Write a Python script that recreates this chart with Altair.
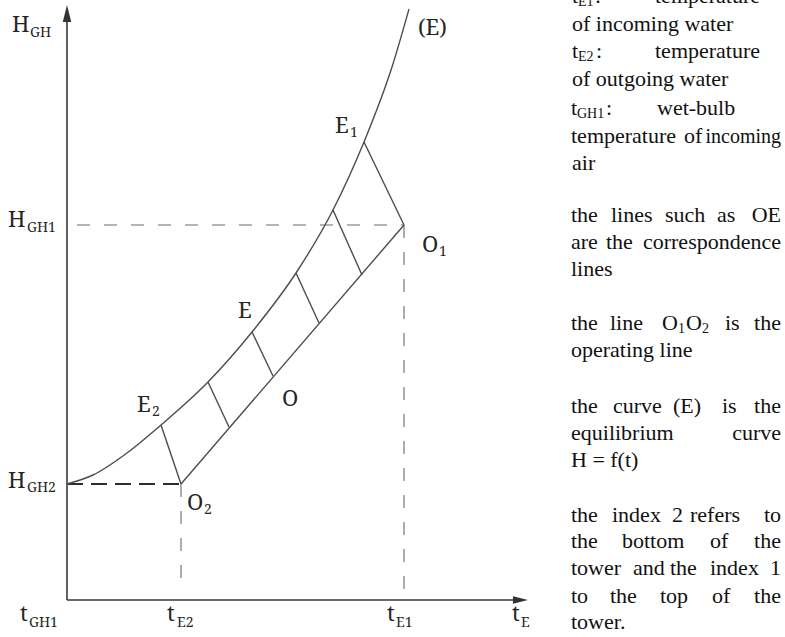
import altair as alt
import pandas as pd

# Equilibrium curve (E): H = f(t) for saturated air at water temperature t
eq_t = [0.0, 2.6, 6.0, 9.4, 14.1, 18.5, 22.9, 26.6, 29.7, 32.5, 34.2]
eq_H = [11.6, 12.5, 14.7, 17.5, 21.8, 26.8, 32.7, 39.0, 45.8, 53.3, 59.1]

# Operating line from O2 (bottom of tower) to O1 (top of tower)
op_t = [11.4, 33.7]
op_H = [11.6, 37.5]

# Correspondence lines: point E on the curve -> point O on the operating line
tie_e_t = [9.4, 14.1, 18.5, 22.9, 26.6, 29.7]
tie_e_H = [17.5, 21.8, 26.8, 32.7, 39.0, 45.8]
tie_o_t = [11.4, 16.2, 20.6, 25.2, 29.5, 33.7]
tie_o_H = [11.6, 17.3, 22.4, 27.7, 32.5, 37.5]

# Reference temperatures / enthalpies
t_GH1, t_E2, t_E1 = 0.0, 11.4, 33.7
H_GH2, H_GH1 = 11.6, 37.5

W, H = 785, 637
XS = alt.Scale(domain=[-6.7, 71.8], nice=False, zero=False)
YS = alt.Scale(domain=[-3.7, 60.0], nice=False, zero=False)

LINE = "#4d4d4d"
INK = "#262626"
LABEL_FONT = "Noto Serif"
NOTE_FONT = "Liberation Serif"


def xy(x="t", y="H"):
    return dict(x=alt.X(f"{x}:Q", scale=XS, axis=None),
                y=alt.Y(f"{y}:Q", scale=YS, axis=None))


def segments(rows):
    return pd.DataFrame(rows, columns=["t", "H", "t2", "H2"])


def rule_layer(df, **style):
    return alt.Chart(df).mark_rule(**style).encode(
        **xy(), x2=alt.X2("t2:Q"), y2=alt.Y2("H2:Q"))


# Axes (without the arrow heads)
axes = rule_layer(segments([
    [t_GH1, 0.0, t_GH1, 57.8],
    [t_GH1, 0.0, 44.8, 0.0],
]), color="#3a3a3a", strokeWidth=1.6)

heads = pd.DataFrame({"t": [0.0, 45.35], "H": [58.65, 0.0],
                      "kind": ["up", "right"]})
head_up = alt.Chart(heads[heads.kind == "up"]).mark_point(
    shape="M0,-1L0.5,1L-0.5,1Z", filled=True, size=289, opacity=1,
    color="#333333").encode(**xy())
head_right = alt.Chart(heads[heads.kind == "right"]).mark_point(
    shape="M1,0L-1,0.5L-1,-0.5Z", filled=True, size=225, opacity=1,
    color="#333333").encode(**xy())

# Dashed construction lines
guide_h1 = rule_layer(segments([
    [t_GH1, H_GH1, t_E1, H_GH1],
]), color="#6a6a6a", strokeWidth=1.1, strokeDash=[13, 14], strokeDashOffset=17)
guide_v = rule_layer(segments([
    [t_E1, H_GH1, t_E1, 0.0],
    [t_E2, H_GH2, t_E2, 1.7],
]), color="#6a6a6a", strokeWidth=1.1, strokeDash=[13, 14])
guide_bold = rule_layer(segments([
    [t_GH1, H_GH2, t_E2, H_GH2],
]), color="#2e2e2e", strokeWidth=2.2, strokeDash=[16, 8])

# Equilibrium curve
eq = alt.Chart(pd.DataFrame({"t": eq_t, "H": eq_H})).mark_line(
    interpolate="monotone", color=LINE, strokeWidth=1.4).encode(**xy())

# Operating line
op = alt.Chart(pd.DataFrame({"t": op_t, "H": op_H})).mark_line(
    color=LINE, strokeWidth=1.4).encode(**xy())

# Correspondence lines
ties = rule_layer(pd.DataFrame({"t": tie_e_t, "H": tie_e_H,
                                "t2": tie_o_t, "H2": tie_o_H}),
                  color=LINE, strokeWidth=1.4)

# Diagram labels: (text, t, H, font size) - subscripts are smaller and lower
labels = pd.DataFrame([
    ("H", -5.5, 56.8, 22), ("GH", -3.7, 56.3, 14),
    ("H", -5.9, 37.3, 22), ("GH1", -4.0, 36.8, 14),
    ("H", -5.9, 11.2, 22), ("GH2", -4.0, 10.8, 14),
    ("t", -4.7, -2.1, 22), ("GH1", -3.8, -2.7, 14),
    ("t", 10.0, -2.1, 22), ("E2", 11.0, -2.7, 14),
    ("t", 32.0, -2.1, 22), ("E1", 32.9, -2.7, 14),
    ("t", 44.5, -2.1, 22), ("E", 45.4, -2.7, 14),
    ("(E)", 35.1, 56.5, 22),
    ("E", 26.8, 46.7, 22), ("1", 28.3, 46.3, 14),
    ("O", 35.5, 34.8, 22), ("1", 37.2, 34.4, 14),
    ("E", 17.1, 28.2, 22),
    ("O", 21.5, 19.4, 22),
    ("E", 7.0, 18.8, 22), ("2", 8.5, 18.4, 14),
    ("O", 12.0, 9.0, 22), ("2", 13.7, 8.6, 14),
], columns=["txt", "t", "H", "fs"])

label_layer = alt.Chart(labels).mark_text(
    align="left", baseline="alphabetic", font=LABEL_FONT, color=INK
).encode(**xy(), text="txt:N", size=alt.Size("fs:Q", scale=None))

# Explanatory notes, set as justified lines of words.
# Each line: baseline, list of (left edge, word, size, is_subscript);
# words with left edge None are set flush right.
NOTE_R = 71.4
notes = [
    (59.7, [(50.5, "t", 22, 0), (51.1, "E1", 14, 1), (52.8, ":", 22, 0),
            (58.8, "temperature", 22, 0)]),
    (56.9, [(50.5, "of incoming water", 22, 0)]),
    (54.2, [(50.5, "t", 22, 0), (51.1, "E2", 14, 1), (52.9, ":", 22, 0),
            (58.8, "temperature", 22, 0)]),
    (51.4, [(50.5, "of outgoing water", 22, 0)]),
    (48.5, [(50.4, "t", 22, 0), (51.0, "GH1", 14, 1), (53.9, ":", 22, 0),
            (59.0, "wet-bulb", 22, 0)]),
    (45.7, [(50.4, "temperature", 22, 0), (61.7, "of", 22, 0),
            (None, "incoming", 20, 0)]),
    (43.0, [(50.5, "air", 22, 0)]),
    (37.8, [(50.4, "the", 22, 0), (54.4, "lines", 22, 0), (59.8, "such", 22, 0),
            (65.0, "as", 22, 0), (None, "OE", 22, 0)]),
    (35.1, [(50.4, "are", 22, 0), (53.9, "the", 22, 0),
            (None, "correspondence", 22, 0)]),
    (32.4, [(50.4, "lines", 22, 0)]),
    (27.0, [(50.4, "the", 22, 0), (54.3, "line", 22, 0), (59.5, "O", 22, 0),
            (61.1, "1", 14, 1), (61.9, "O", 22, 0), (63.5, "2", 14, 1),
            (65.8, "is", 22, 0), (None, "the", 22, 0)]),
    (24.3, [(50.4, "operating line", 22, 0)]),
    (18.7, [(50.4, "the", 22, 0), (54.6, "curve", 22, 0), (60.6, "(E)", 22, 0),
            (65.5, "is", 22, 0), (None, "the", 22, 0)]),
    (16.0, [(50.4, "equilibrium", 22, 0), (None, "curve", 22, 0)]),
    (13.3, [(50.4, "H = f(t)", 22, 0)]),
    (7.8, [(50.4, "the", 22, 0), (54.5, "index", 22, 0), (60.5, "2", 22, 0),
           (62.3, "refers", 22, 0), (None, "to", 22, 0)]),
    (5.2, [(50.4, "the", 22, 0), (55.5, "bottom", 22, 0), (64.3, "of", 22, 0),
           (None, "the", 22, 0)]),
    (2.5, [(50.4, "tower", 22, 0), (56.6, "and", 22, 0), (60.3, "the", 22, 0),
           (64.3, "index", 22, 0), (None, "1", 22, 0)]),
    (-0.3, [(50.4, "to", 22, 0), (54.3, "the", 22, 0), (59.3, "top", 22, 0),
            (64.5, "of", 22, 0), (None, "the", 22, 0)]),
    (-2.9, [(50.4, "tower.", 22, 0)]),
]

rows = []
for base, words in notes:
    for left, word, fs, sub in words:
        rows.append({
            "txt": word,
            "t": NOTE_R if left is None else left,
            "H": base - (0.3 if sub else 0.0),
            "fs": fs,
            "anchor": "right" if left is None else "left",
        })
notes_df = pd.DataFrame(rows)

notes_left = alt.Chart(notes_df[notes_df.anchor == "left"]).mark_text(
    align="left", baseline="alphabetic", font=NOTE_FONT, color="#111111"
).encode(**xy(), text="txt:N", size=alt.Size("fs:Q", scale=None))
notes_right = alt.Chart(notes_df[notes_df.anchor == "right"]).mark_text(
    align="right", baseline="alphabetic", font=NOTE_FONT, color="#111111"
).encode(**xy(), text="txt:N", size=alt.Size("fs:Q", scale=None))

chart = alt.layer(
    guide_h1, guide_v, guide_bold, axes, head_up, head_right,
    eq, op, ties, label_layer, notes_left, notes_right,
).properties(
    width=W, height=H, padding=0, autosize="none", background="white"
).configure_view(strokeWidth=0)

chart.save("out.html", embed_options={"renderer": "svg", "actions": False})
